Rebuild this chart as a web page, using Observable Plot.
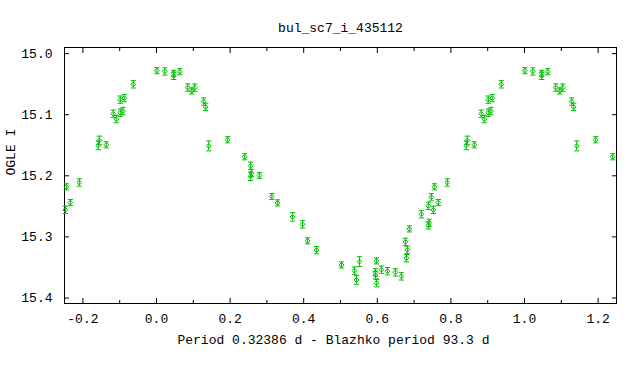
<!DOCTYPE html>
<html><head><meta charset="utf-8">
<script src="https://cdn.jsdelivr.net/npm/d3@7"></script>
<script src="https://cdn.jsdelivr.net/npm/@observablehq/plot@0.6"></script>
<style>body{margin:0;background:#fff}</style>
</head><body><div id="chart"></div>
<script>
const title = "bul_sc7_i_435112";
const xLabel = "Period 0.32386 d - Blazhko period 93.3 d";
const yLabel = "OGLE I";

// phase-folded observations (phase in [0,1))
const phase = [0.001,0.0225,0.0469,0.0469,0.0632,0.0849,0.0958,0.1039,0.1283,0.1337,
  0.1419,0.1934,0.2396,0.2558,0.2577,0.2558,0.2800,0.3133,0.3291,0.3698,
  0.3969,0.4105,0.4349,0.5027,0.5380,0.5515,0.5434,0.5977,0.5950,0.5950,
  0.5982,0.6112,0.6275,0.6492,0.6655,0.6763,0.6818,0.6791,0.6872,0.7198,
  0.7387,0.7406,0.7387,0.7469,0.7523,0.7550,0.7659,0.7903,0.8418,0.8445,
  0.8635,0.8825,0.8907,0.9015,0.9088,0.9015,0.9124,0.9368];
const mag = [15.0279,15.0292,15.0323,15.0364,15.0295,15.0556,15.0613,15.0557,15.0785,15.0872,
  15.1511,15.1410,15.1689,15.1836,15.1954,15.2007,15.1995,15.2339,15.2443,15.2672,
  15.2795,15.3064,15.3216,15.3459,15.3552,15.3405,15.3705,15.3392,15.3580,15.3626,
  15.3757,15.3536,15.3561,15.3580,15.3646,15.3082,15.3213,15.3348,15.2869,15.2630,
  15.2492,15.2770,15.2811,15.2351,15.2557,15.2180,15.2438,15.2110,15.1503,15.1421,
  15.1492,15.0984,15.1072,15.0967,15.0941,15.0754,15.0728,15.0503];
const err = [0.005,0.006,0.005,0.006,0.005,0.006,0.005,0.006,0.006,0.006,
  0.008,0.005,0.005,0.006,0.006,0.007,0.005,0.005,0.005,0.007,
  0.006,0.005,0.006,0.005,0.006,0.008,0.007,0.005,0.006,0.006,
  0.006,0.006,0.006,0.006,0.006,0.006,0.006,0.006,0.005,0.006,
  0.006,0.006,0.006,0.006,0.006,0.005,0.005,0.006,0.007,0.007,
  0.005,0.006,0.006,0.006,0.006,0.006,0.006,0.006];

const xTicks = [-0.2,0,0.2,0.4,0.6,0.8,1.0,1.2];
const xMinorTicks = [-0.1,0.1,0.3,0.5,0.7,0.9,1.1];
const yTicks = [15.0,15.1,15.2,15.3,15.4];
const xDomain = [-0.25, 1.25];
const yDomain = [14.99, 15.409];

const green = "#00c000";
const base = phase.map((p, i) => ({phase: p, mag: mag[i], err: err[i]}));
const data = base.flatMap(d => [-1, 0, 1].map(s => ({...d, x: d.phase + s})))
  .filter(d => d.x >= xDomain[0] && d.x <= xDomain[1]);

const capSymbol = {draw(ctx, size) { const r = Math.sqrt(size / Math.PI); ctx.moveTo(-r, 0); ctx.lineTo(r, 0); }};
const fmt = d => d.toFixed(1);

const chart = Plot.plot({
  width: 640, height: 384,
  marginLeft: 64, marginRight: 24, marginTop: 47, marginBottom: 81,
  style: {fontFamily: "Liberation Mono", fontSize: "13px", background: "#fff", color: "#000"},
  x: {domain: xDomain},
  y: {domain: yDomain, reverse: true},
  marks: [
    Plot.frame({stroke: "#000"}),
    Plot.axisX(xTicks, {anchor: "bottom", tickSize: 5, dy: -5, fill: "none", label: null}),
    Plot.axisX(xMinorTicks, {anchor: "bottom", tickSize: 3, dy: -3, fill: "none", label: null}),
    Plot.axisX(xTicks, {anchor: "top", tickSize: 5, dy: 5, fill: "none", label: null}),
    Plot.axisX(xMinorTicks, {anchor: "top", tickSize: 3, dy: 3, fill: "none", label: null}),
    Plot.axisX(xTicks, {anchor: "bottom", tickSize: 0, tickPadding: 10, tickFormat: fmt, label: null}),
    Plot.axisY(yTicks, {anchor: "left", tickSize: 5, dx: 5, fill: "none", label: null}),
    Plot.axisY(yTicks, {anchor: "right", tickSize: 5, dx: -5, fill: "none", label: null}),
    Plot.axisY(yTicks, {anchor: "left", tickSize: 0, tickPadding: 12, tickFormat: fmt, label: null}),
    Plot.ruleX(data, {x: "x", y1: d => d.mag - d.err, y2: d => d.mag + d.err, stroke: green, strokeWidth: 1}),
    Plot.dot(data, {x: "x", y: d => d.mag - d.err, symbol: capSymbol, r: 2.6, fill: "none", stroke: green, strokeWidth: 1}),
    Plot.dot(data, {x: "x", y: d => d.mag + d.err, symbol: capSymbol, r: 2.6, fill: "none", stroke: green, strokeWidth: 1}),
    Plot.dot(data, {x: "x", y: "mag", symbol: "diamond2", r: 2.2, fill: "none", stroke: green, strokeWidth: 1}),
    Plot.text([title], {frameAnchor: "top", dy: -25, text: d => d}),
    Plot.text([xLabel], {frameAnchor: "bottom", dy: 40, dx: -7, text: d => d}),
    Plot.text([yLabel], {frameAnchor: "left", dx: -54, rotate: -90, text: d => d})
  ]
});
document.getElementById("chart").appendChild(chart);
</script>
</body></html>
